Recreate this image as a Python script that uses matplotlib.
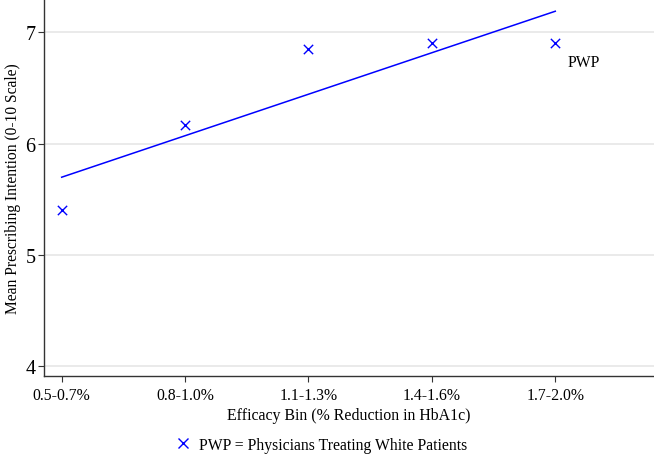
import matplotlib
matplotlib.use('Agg')
import matplotlib.pyplot as plt
from matplotlib.lines import Line2D
import numpy as np

plt.rcParams['font.family'] = ['Liberation Serif', 'DejaVu Serif']

bins = ['0.5-0.7%', '0.8-1.0%', '1.1-1.3%', '1.4-1.6%', '1.7-2.0%']
pwp_means = [5.40, 6.17, 6.85, 6.90, 6.90]
y_ticks = [4, 5, 6, 7]

x = np.arange(len(bins))
# linear fit through the bin means
slope, icept = np.polyfit(x, pwp_means, 1)
fit = icept + slope * x

fig = plt.figure(figsize=(6.54, 4.56), dpi=100)
ax = fig.add_axes([0.0673, 0.173, 0.9327, 0.827])

ax.plot(x, fit, color='blue', linewidth=1.1, zorder=3)
ax.scatter(x, pwp_means, marker='x', color='blue', s=45, linewidths=1.0, zorder=4)
ax.annotate('PWP', (x[-1], pwp_means[-1]), xytext=(9, -13), textcoords='offset points',
            fontsize=11.3, va='center', ha='left')

ax.set_xlim(-0.143, 4.80)
ax.set_ylim(3.91, 7.30)
ax.set_xticks(x)
ax.set_xticklabels(bins, fontsize=11.3)
ax.set_yticks(y_ticks)
ax.set_yticklabels([str(t) for t in y_ticks], fontsize=14.5)
ax.tick_params(length=4, width=0.8, color='#333333')
ax.tick_params(axis='y', pad=2)
ax.grid(axis='y', color='#e6e6e6', linewidth=1.2)
ax.set_axisbelow(True)
for s in ['top', 'right']:
    ax.spines[s].set_visible(False)
for s in ['left', 'bottom']:
    ax.spines[s].set_color('#333333')
    ax.spines[s].set_linewidth(1.0)

ax.set_xlabel('Efficacy Bin (% Reduction in HbA1c)', fontsize=11.4, labelpad=3)
ax.set_ylabel('Mean Prescribing Intention (0-10 Scale)', fontsize=11.2, labelpad=3)

handle = Line2D([], [], marker='x', color='blue', linestyle='none', markersize=7)
fig.legend([handle], ['PWP = Physicians Treating White Patients'], loc='center',
           bbox_to_anchor=(0.49, 0.022), frameon=False, fontsize=11.3,
           handletextpad=0.4, handlelength=1.2)

fig.savefig('out.png', dpi=100)
